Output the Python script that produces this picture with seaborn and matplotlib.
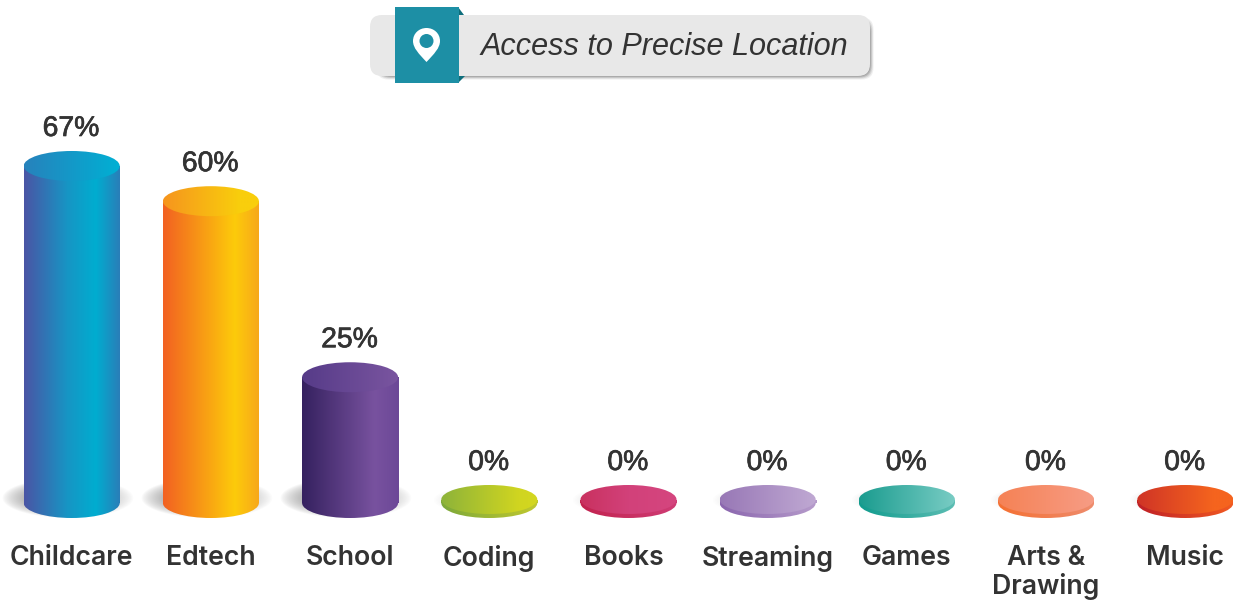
import numpy as np
import matplotlib
matplotlib.use("Agg")
import matplotlib.pyplot as plt
import matplotlib.patheffects as pe
from matplotlib.colors import LinearSegmentedColormap
from matplotlib.patches import Ellipse, FancyBboxPatch, Rectangle, Polygon, Circle, PathPatch
from matplotlib.path import Path
from matplotlib.transforms import ScaledTranslation
import seaborn as sns

title = "Access to Precise Location"
categories = ["Childcare", "Edtech", "School", "Coding", "Books", "Streaming", "Games", "Arts &\nDrawing", "Music"]
values = [67, 60, 25, 0, 0, 0, 0, 0, 0]

body_stops = [
    [(0, "#4A55A5"), (0.45, "#1795C4"), (0.75, "#00ADD0"), (1, "#2A7EB8")],
    [(0, "#F26122"), (0.75, "#FDCB0A"), (1, "#F7A81B")],
    [(0, "#35215F"), (0.75, "#78529F"), (1, "#6C4897")],
    [(0, "#7CA83A"), (1, "#C0C830")],
    [(0, "#C2234F"), (1, "#CF3C75")],
    [(0, "#8A66AE"), (1, "#B69BCB")],
    [(0, "#119C8E"), (1, "#5CBDB3")],
    [(0, "#F57032"), (1, "#EE8C6D")],
    [(0, "#BF2026"), (1, "#F15A22")],
]
top_stops = [
    [(0, "#2782BC"), (1, "#00B0D4")],
    [(0, "#F6951E"), (0.8, "#F9CE0C"), (1, "#F9CE0C")],
    [(0, "#563B88"), (1, "#7A55A0")],
    [(0, "#8DB33A"), (0.8, "#D0D520"), (1, "#D4D720")],
    [(0, "#C9315F"), (0.5, "#D2417A"), (1, "#D5467F")],
    [(0, "#9878B6"), (1, "#C0A9D3")],
    [(0, "#1A9C8F"), (1, "#79CCC4")],
    [(0, "#F58255"), (1, "#F79C85")],
    [(0, "#CF3426"), (0.8, "#F5641E"), (1, "#F5641E")],
]

W, H = 1240, 601
FONT = ["Inter", "DejaVu Sans"]
INK = "#333333"
sns.set_theme(style="white")
plt.rcParams["font.family"] = FONT

fig = plt.figure(figsize=(W / 100, H / 100), dpi=100, facecolor="white")

# Scale: one category step = 139.2 px, one percent = 5.03 px, zero at y = 503 px
PX_X, PX_Y, X0, Y0 = 139.2, 5.03, 71.7, 503
AX_TOP, AX_BOTTOM = 90, 530
ax = fig.add_axes([0, 1 - AX_BOTTOM / H, 1, (AX_BOTTOM - AX_TOP) / H])
sns.barplot(x=categories, y=values, width=96 / PX_X, color="white", linewidth=0, ax=ax, zorder=1)
bars = list(ax.containers[0])


def grad(stops):
    return LinearSegmentedColormap.from_list("g", stops)


GR = np.linspace(0, 1, 256).reshape(1, -1)
EH_TOP = 30 / PX_Y
THICK = 3.5 / PX_Y

for i, bar in enumerate(bars):
    v = bar.get_height()
    x0 = bar.get_x()
    w = bar.get_width()
    cx = x0 + w / 2
    bar.set_facecolor("none")
    top = max(v, THICK)
    eh = EH_TOP if v > 0 else 29 / PX_Y

    # soft ground shadow
    yy, xx = np.mgrid[-1:1:120j, -1:1:200j]
    r = np.clip(np.hypot(xx, yy), 0, 1)
    img = np.zeros((120, 200, 4))
    img[..., :3] = 0.3
    if v > 0:
        img[..., 3] = 0.8 * (1 - r) ** 0.8 * (1 - 0.25 * xx)
        hw, hh, off, cy = 66 / PX_X, 20 / PX_Y, -4 / PX_X, 5 / PX_Y
    else:
        img[..., 3] = 0.3 * (1 - r) ** 0.9
        hw, hh, off, cy = 50 / PX_X, 14 / PX_Y, -6 / PX_X, 3 / PX_Y
    ax.imshow(img, extent=(cx + off - hw, cx + off + hw, cy - hh, cy + hh), aspect="auto", zorder=0.5,
              interpolation="bilinear")

    # body: rectangle plus rounded base
    base = Ellipse((cx, 0), w, EH_TOP, transform=ax.transData, fc="none", ec="none")
    rect = Rectangle((x0, 0), w, top, transform=ax.transData, fc="none", ec="none")
    ax.add_patch(base)
    ax.add_patch(rect)
    ext = (x0, x0 + w, -EH_TOP, top + EH_TOP)
    for clip in (base, rect):
        im = ax.imshow(GR, cmap=grad(body_stops[i]), extent=ext, aspect="auto", zorder=2, interpolation="bilinear")
        im.set_clip_path(clip)

    # cap
    cap = Ellipse((cx, top), w, eh, transform=ax.transData, fc="none", ec="none")
    ax.add_patch(cap)
    im = ax.imshow(GR, cmap=grad(top_stops[i]), extent=ext, aspect="auto", zorder=3, interpolation="bilinear")
    im.set_clip_path(cap)

    lab = ax.annotate(f"{v:.0f}%", (cx, top + eh / 2), xytext=(-0.5, 6.5), textcoords="offset points",
                      ha="center", va="bottom", fontsize=20.4, color=INK, zorder=4,
                      family=["Liberation Sans"])
    lab.set_path_effects([pe.withStroke(linewidth=0.5, foreground=INK)])

ax.set_xlim((0 - X0) / PX_X, (W - X0) / PX_X)
ax.set_ylim((Y0 - AX_BOTTOM) / PX_Y, (Y0 - AX_TOP) / PX_Y)
ax.set_xticks(range(len(categories)))
ax.set_xticklabels(categories, fontsize=19.2, color=INK, fontweight="semibold", linespacing=1.1)
ax.tick_params(axis="x", length=0, pad=10.6)
ax.yaxis.set_visible(False)
ax.set_xlabel("")
sns.despine(ax=ax, left=True, bottom=True, top=True, right=True)
ax.patch.set_alpha(0)
# "Books" sits a little left of its column in the original
books = ax.get_xticklabels()[4]
books.set_transform(books.get_transform() + ScaledTranslation(-5 / 100, 0, fig.dpi_scale_trans))

# Header badge in pixel coordinates
hd = fig.add_axes([0, 0, 1, 1], zorder=5)
hd.set_xlim(0, W)
hd.set_ylim(H, 0)
hd.axis("off")
hd.patch.set_alpha(0)
box = dict(boxstyle="round,pad=0,rounding_size=12", linewidth=0)
for grow, alpha in [(3.5, 0.12), (2.5, 0.2), (1.5, 0.3), (0.5, 0.4)]:
    hd.add_patch(FancyBboxPatch((380 - grow, 21 - grow), 490 + 2 * grow, 55 + 2 * grow,
                                fc="#777777", alpha=alpha, **box))
hd.add_patch(FancyBboxPatch((370, 15), 500, 61, fc="#E8E8E8", **box))
hd.add_patch(Polygon([(458, 7), (464, 15), (458, 15)], fc="#0E6E7C", lw=0))
hd.add_patch(Polygon([(458, 76), (465, 76), (458, 83)], fc="#0E6E7C", lw=0))
hd.add_patch(Rectangle((395, 7), 63.5, 76, fc="#1D8FA5", lw=0))
pin = Path(
    [(426.5, 62), (419, 54), (413, 48), (413, 41), (413, 33.5), (419, 28), (426.5, 28),
     (434, 28), (440, 33.5), (440, 41), (440, 48), (434, 54), (426.5, 62), (426.5, 62)],
    [Path.MOVETO, Path.CURVE4, Path.CURVE4, Path.CURVE4, Path.CURVE4, Path.CURVE4, Path.CURVE4,
     Path.CURVE4, Path.CURVE4, Path.CURVE4, Path.CURVE4, Path.CURVE4, Path.CURVE4, Path.CLOSEPOLY],
)
hd.add_patch(PathPatch(pin, fc="white", lw=0))
hd.add_patch(Circle((426.5, 41), 7, fc="#1D8FA5", lw=0))
hd.text(481, 55, title, ha="left", va="baseline", fontsize=22.1, fontstyle="italic", color=INK,
        family=["Liberation Sans"])

fig.savefig("out.png", dpi=100)
